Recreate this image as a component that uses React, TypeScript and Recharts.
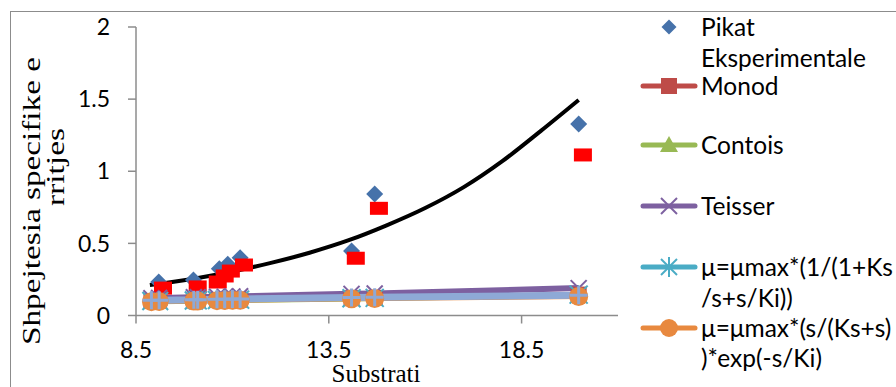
import React from 'react';
import { ComposedChart, Line, Scatter, XAxis, YAxis, Customized } from 'recharts';

// ---- data ----
const expS = [9.09, 9.99, 10.66, 10.88, 11.2, 14.09, 14.69, 19.98];
const expMu = [0.232, 0.246, 0.324, 0.355, 0.4, 0.447, 0.842, 1.328];

const redS = [9.2, 10.1, 10.62, 10.8, 10.96, 11.3, 14.2, 14.8, 20.09];
const redMu = [0.19, 0.198, 0.232, 0.274, 0.308, 0.35, 0.397, 0.743, 1.113];

const trendS = [8.86, 10, 11, 12, 13, 14, 15, 16, 17, 18, 19, 19.98];
const trendMu = [0.211, 0.255, 0.305, 0.365, 0.435, 0.52, 0.625, 0.745, 0.89, 1.07, 1.28, 1.494];

const modelS = [8.9, 9.1, 10.0, 10.1, 10.6, 10.8, 11.0, 11.2, 14.09, 14.69, 19.98];
const monod = [0.1, 0.101, 0.104, 0.105, 0.107, 0.108, 0.109, 0.11, 0.12, 0.122, 0.145];
const contois = [0.095, 0.096, 0.099, 0.1, 0.102, 0.103, 0.104, 0.105, 0.115, 0.117, 0.14];
const teisser = [0.12, 0.122, 0.126, 0.127, 0.13, 0.131, 0.132, 0.133, 0.15, 0.153, 0.19];
const haldane = [0.1, 0.101, 0.104, 0.105, 0.107, 0.108, 0.109, 0.11, 0.12, 0.122, 0.145];
const expModel = [0.096, 0.097, 0.1, 0.101, 0.103, 0.104, 0.105, 0.106, 0.116, 0.118, 0.132];
const extraBand = [0.105, 0.106, 0.109, 0.11, 0.112, 0.113, 0.114, 0.115, 0.124, 0.126, 0.14];

const xTicks = [8.5, 13.5, 18.5];
const yTicks = [0, 0.5, 1, 1.5, 2];

const legendLabels = [
  ['Pikat', 'Eksperimentale'],
  ['Monod'],
  ['Contois'],
  ['Teisser'],
  ['μ=μmax*(1/(1+Ks', '/s+s/Ki))'],
  ['μ=μmax*(s/(Ks+s)', ')*exp(-s/Ki)'],
];

const zip = (xs: number[], ys: number[]) => xs.map((s, i) => ({ s, v: ys[i] }));
const expData = zip(expS, expMu);
const redData = zip(redS, redMu);
const trendData = zip(trendS, trendMu);
const monodData = zip(modelS, monod);
const contoisData = zip(modelS, contois);
const teisserData = zip(modelS, teisser);
const haldaneData = zip(modelS, haldane);
const expModelData = zip(modelS, expModel);
const bandData = zip(modelS, extraBand);

const C = {
  blue: '#4672AA',
  red: '#FF0000',
  monod: '#BE4B48',
  contois: '#98B954',
  teisser: '#7D60A0',
  teal: '#4AACC5',
  orange: '#E8893F',
  band: '#8EA9D6',
  axis: '#8C8C8C',
};

const FONT = 'Lato, "Liberation Sans", sans-serif';
const SERIF = '"Liberation Serif", "DejaVu Serif", serif';

const Diamond = (p: any) => {
  const { cx, cy } = p;
  if (cx == null || cy == null) return null;
  const r = 8.5;
  return <polygon points={`${cx},${cy - r} ${cx + r},${cy} ${cx},${cy + r} ${cx - r},${cy}`} fill={C.blue} />;
};
const RedRect = (p: any) => {
  const { cx, cy } = p;
  if (cx == null || cy == null) return null;
  return <rect x={cx - 9} y={cy - 6.5} width={18} height={13} fill={C.red} />;
};
const SquareDot = (p: any) => {
  const { cx, cy } = p;
  if (cx == null || cy == null) return null;
  return <rect key={p.index} x={cx - 8} y={cy - 8} width={16} height={16} fill={C.monod} />;
};
const TriDot = (p: any) => {
  const { cx, cy } = p;
  if (cx == null || cy == null) return null;
  return <polygon key={p.index} points={`${cx},${cy - 8} ${cx + 8},${cy + 7} ${cx - 8},${cy + 7}`} fill={C.contois} />;
};
const XDot = (p: any) => {
  const { cx, cy } = p;
  if (cx == null || cy == null) return null;
  const r = 8;
  return (
    <g key={p.index} stroke={C.teisser} strokeWidth={2}>
      <line x1={cx - r} y1={cy - r} x2={cx + r} y2={cy + r} />
      <line x1={cx - r} y1={cy + r} x2={cx + r} y2={cy - r} />
    </g>
  );
};
const StarDot = (p: any) => {
  const { cx, cy } = p;
  if (cx == null || cy == null) return null;
  const r = 9;
  return (
    <g key={p.index} stroke={C.teal} strokeWidth={2}>
      <line x1={cx - r} y1={cy - r} x2={cx + r} y2={cy + r} />
      <line x1={cx - r} y1={cy + r} x2={cx + r} y2={cy - r} />
      <line x1={cx} y1={cy - r} x2={cx} y2={cy + r} />
    </g>
  );
};
const CircleDot = (p: any) => {
  const { cx, cy } = p;
  if (cx == null || cy == null) return null;
  return <circle key={p.index} cx={cx} cy={cy} r={9.5} fill={C.orange} />;
};
const PlusDot = (p: any) => {
  const { cx, cy } = p;
  if (cx == null || cy == null) return null;
  const r = 9;
  return (
    <g key={p.index} stroke={C.band} strokeWidth={3}>
      <line x1={cx - r} y1={cy} x2={cx + r} y2={cy} />
      <line x1={cx} y1={cy - r} x2={cx} y2={cy + r} />
    </g>
  );
};

const legendRows = [
  { y: [27, 58], icon: 'diamond', color: C.blue },
  { y: [86], icon: 'square', color: C.monod },
  { y: [145], icon: 'tri', color: C.contois },
  { y: [206], icon: 'x', color: C.teisser },
  { y: [267, 298], icon: 'star', color: C.teal },
  { y: [328, 358], icon: 'circle', color: C.orange },
];

const LegendIcon = ({ kind, color, y }: { kind: string; color: string; y: number }) => {
  const cx = 669;
  const line = <line x1={643} x2={695} y1={y} y2={y} stroke={color} strokeWidth={5} strokeLinecap="round" />;
  if (kind === 'diamond') {
    const r = 7.5;
    return <polygon points={`${cx},${y - r} ${cx + r},${y} ${cx},${y + r} ${cx - r},${y}`} fill={color} />;
  }
  let m: React.ReactNode = null;
  if (kind === 'square') m = <rect x={cx - 8} y={y - 8} width={16} height={16} fill={color} />;
  if (kind === 'tri') m = <polygon points={`${cx},${y - 9} ${cx + 9},${y + 7} ${cx - 9},${y + 7}`} fill={color} />;
  if (kind === 'x')
    m = (
      <g stroke={color} strokeWidth={2}>
        <line x1={cx - 8} y1={y - 8} x2={cx + 8} y2={y + 8} />
        <line x1={cx - 8} y1={y + 8} x2={cx + 8} y2={y - 8} />
      </g>
    );
  if (kind === 'star')
    m = (
      <g stroke={color} strokeWidth={2}>
        <line x1={cx - 8} y1={y - 8} x2={cx + 8} y2={y + 8} />
        <line x1={cx - 8} y1={y + 8} x2={cx + 8} y2={y - 8} />
        <line x1={cx} y1={y - 10} x2={cx} y2={y + 10} />
      </g>
    );
  if (kind === 'circle') m = <circle cx={cx} cy={y} r={9} fill={color} />;
  return (
    <g>
      {line}
      {m}
    </g>
  );
};

const Decorations = () => (
  <g>
    {legendRows.map((row, i) => (
      <g key={i}>
        <LegendIcon kind={row.icon} color={row.color} y={row.y[0]} />
        {legendLabels[i].map((t, j) => (
          <text key={j} x={701} y={row.y[j]} dy="0.35em" fontFamily={FONT} fontSize={24.5} fill="#000">
            {t}
          </text>
        ))}
      </g>
    ))}
    <text
      x={40}
      y={201}
      transform="rotate(-90, 40, 201)"
      textAnchor="middle"
      fontFamily={SERIF}
      fontSize={26}
      textLength={288}
      lengthAdjust="spacingAndGlyphs"
      fill="#000"
    >
      Shpejtesia specifike e
    </text>
    <text
      x={64}
      y={167}
      transform="rotate(-90, 64, 167)"
      textAnchor="middle"
      fontFamily={SERIF}
      fontSize={26}
      textLength={78}
      lengthAdjust="spacingAndGlyphs"
      fill="#000"
    >
      rritjes
    </text>
    <text x={376} y={382} textAnchor="middle" fontFamily={SERIF} fontSize={25} fill="#000">
      Substrati
    </text>
  </g>
);

export default function App() {
  return (
    <div style={{ position: 'absolute', left: 0, top: 0, width: 896, height: 387, background: '#fff', overflow: 'hidden' }}>
      <div
        style={{
          position: 'absolute',
          left: 10,
          top: 11,
          width: 886,
          height: 376,
          borderLeft: '1.5px solid #8C8C8C',
          borderTop: '1.5px solid #8C8C8C',
          boxSizing: 'border-box',
        }}
      />
      <div style={{ position: 'absolute', left: 0, top: 0 }}>
        <ComposedChart width={896} height={387} margin={{ top: 27, right: 278, bottom: 0, left: 0 }}>
          <XAxis
            dataKey="s"
            type="number"
            domain={[8.5, 21]}
            ticks={xTicks}
            allowDataOverflow
            stroke={C.axis}
            strokeWidth={1.5}
            tickSize={8}
            tickMargin={18}
            tick={{ fill: '#000', fontSize: 23, fontFamily: FONT }}
            tickLine={{ stroke: C.axis, strokeWidth: 1.5 }}
            height={71.5}
          />
          <YAxis
            dataKey="v"
            type="number"
            domain={[0, 2]}
            ticks={yTicks}
            allowDataOverflow
            stroke={C.axis}
            strokeWidth={1.5}
            tickSize={8}
            tickMargin={18}
            width={136}
            tick={{ fill: '#000', fontSize: 23, fontFamily: FONT }}
            tickLine={{ stroke: C.axis, strokeWidth: 1.5 }}
          />
          <Scatter data={expData} dataKey="v" shape={Diamond} isAnimationActive={false} />
          <Scatter data={redData} dataKey="v" shape={RedRect} isAnimationActive={false} />
          <Line data={monodData} dataKey="v" stroke={C.monod} strokeWidth={5} dot={SquareDot} isAnimationActive={false} />
          <Line data={contoisData} dataKey="v" stroke={C.contois} strokeWidth={5} dot={TriDot} isAnimationActive={false} />
          <Line data={teisserData} dataKey="v" stroke={C.teisser} strokeWidth={6} dot={XDot} isAnimationActive={false} />
          <Line data={haldaneData} dataKey="v" stroke={C.teal} strokeWidth={5} dot={StarDot} isAnimationActive={false} />
          <Line data={expModelData} dataKey="v" stroke={C.orange} strokeWidth={5} dot={CircleDot} isAnimationActive={false} />
          <Line data={bandData} dataKey="v" stroke={C.band} strokeWidth={7} dot={PlusDot} isAnimationActive={false} />
          <Line data={trendData} dataKey="v" stroke="#000" strokeWidth={4} type="monotone" dot={false} isAnimationActive={false} />
          <Customized component={Decorations} />
        </ComposedChart>
      </div>
    </div>
  );
}
